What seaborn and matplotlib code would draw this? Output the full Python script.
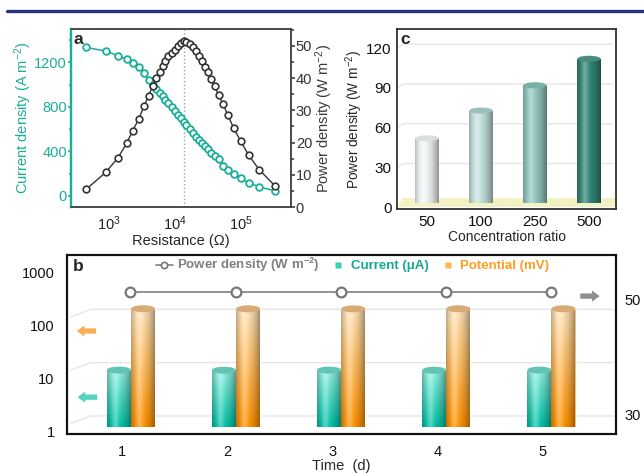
import numpy as np
import pandas as pd
import seaborn as sns
import matplotlib
matplotlib.use('Agg')
import matplotlib.pyplot as plt
import matplotlib.colors as mcolors
import matplotlib.transforms as mtrans
from matplotlib.patches import Ellipse, Polygon
from matplotlib.lines import Line2D
from matplotlib.ticker import MultipleLocator, NullLocator

# panel a: load curve
resistance = [450, 900, 1370, 1850, 2300, 2850, 3400, 4000, 4600, 5200,
              5850, 6500, 7200, 8000, 8900, 9900, 11000, 12200, 13600, 15000,
              16700, 18600, 20600, 22900, 25500, 28300, 31400, 35500, 40000, 46000,
              54000, 64000, 78000, 100000, 132000, 190000, 333000]
current_density = [1334, 1301, 1259, 1227, 1194, 1158, 1100, 1045, 1000, 962,
                   927, 896, 864, 832, 798, 765, 730, 698, 665, 633,
                   598, 565, 533, 502, 471, 444, 418, 389, 362, 327,
                   272, 232, 196, 157, 119, 81, 45]
power_density = [5.5, 10.8, 15.3, 19.7, 23.7, 27.4, 31.3, 34.5, 37.5, 40.0,
                 42.0, 43.7, 45.3, 46.7, 47.8, 48.8, 49.8, 50.8, 51.4, 51.2,
                 50.6, 49.6, 48.3, 46.8, 45.2, 43.5, 41.9, 39.8, 37.6, 34.7,
                 31.9, 28.4, 24.5, 20.4, 16.1, 11.6, 6.5]
peak_resistance = 14000

# panel c: concentration ratio
ratio_labels = ['50', '100', '250', '500']
ratio_power = [52, 73, 92, 112]

# panel b: stability over days
days = [1, 2, 3, 4, 5]
current_uA = [14.5, 14.4, 14.5, 14.4, 14.5]
potential_mV = [205, 204, 204, 205, 205]
day_power = [51.2, 51.2, 51.2, 51.2, 51.2]

sns.set_style('white')
plt.rcParams['font.family'] = ['Liberation Sans', 'DejaVu Sans']
plt.rcParams['mathtext.default'] = 'regular'

teal = '#1aae98'
W, H = 644, 473


def box(x0, y0, x1, y1):
    return [x0 / W, 1 - y1 / H, (x1 - x0) / W, (y1 - y0) / H]


def cyl_image(top_hex, bot_hex, nx=48, ny=48):
    top = np.array(mcolors.to_rgb(top_hex))
    bot = np.array(mcolors.to_rgb(bot_hex))
    r = np.linspace(0, 1, ny)[:, None, None]
    base = top * (1 - r) + bot * r
    t = np.linspace(0, 1, nx)[None, :, None]
    dark = np.where(t > 0.35, 0.40 * ((t - 0.35) / 0.65) ** 2,
                    0.22 * ((0.35 - t) / 0.35) ** 2)
    light = 0.30 * np.exp(-((t - 0.33) / 0.14) ** 2)
    img = base * (1 - dark)
    img = img + (1 - img) * light
    return np.clip(img, 0, 1)


def yfrac(ax, v):
    return ax.transAxes.inverted().transform(ax.transData.transform((0, v)))[1]


def cylinder(ax, patch, img, cap_color, cap_h, trans, y0, y1):
    x0 = patch.get_x()
    w = patch.get_width()
    im = ax.imshow(img, extent=(x0, x0 + w, y0, y1), transform=trans,
                   aspect='auto', interpolation='bilinear',
                   zorder=patch.get_zorder() + 0.1)
    im.set_clip_path(patch)
    ax.add_patch(Ellipse((x0 + w / 2, y1), w, cap_h, transform=trans,
                         facecolor=cap_color, edgecolor='none',
                         zorder=patch.get_zorder() + 0.2))


fig = plt.figure(figsize=(6.44, 4.73), dpi=100)
fig.add_artist(Line2D([7 / W, 1], [1 - 11 / H] * 2, color='#29337a', lw=2.4,
                      transform=fig.transFigure))

# ---------------- panel a ----------------
ax_a = fig.add_axes(box(71, 29, 291, 207))
df_a = pd.DataFrame({'R': resistance, 'J': current_density, 'P': power_density})
ax_a.axvline(peak_resistance, color='#a0a0a0', ls=':', lw=1, zorder=1)
sns.lineplot(data=df_a, x='R', y='J', ax=ax_a, color=teal, linewidth=1.1,
             marker='o', markersize=4.8, markerfacecolor='white',
             markeredgecolor=teal, markeredgewidth=1.3, zorder=3)
ax_a.set_xscale('log')
ax_a.set_xlim(265, 5.8e5)
ax_a.set_ylim(-100, 1500)
ax_a.set_yticks([0, 400, 800, 1200])
ax_a.yaxis.set_minor_locator(MultipleLocator(200))
ax_a.set_xlabel('Resistance (Ω)', fontsize=10.5, labelpad=1)
ax_a.set_ylabel('Current density (A m$^{-2}$)', fontsize=10.5, color=teal, labelpad=0.5)
ax_a.tick_params(axis='y', which='both', colors=teal, direction='out', labelsize=10.5, width=1.1, pad=0.3)
ax_a.tick_params(axis='y', which='major', length=2.5)
ax_a.tick_params(axis='y', which='minor', length=1.8)
ax_a.tick_params(axis='x', which='both', direction='out', labelsize=10.5, colors='#222222', width=1)
ax_a.tick_params(axis='x', which='major', length=3.5, pad=1.5)
ax_a.tick_params(axis='x', which='minor', length=2.2)

ax_a2 = ax_a.twinx()
sns.lineplot(data=df_a, x='R', y='P', ax=ax_a2, color='#333333', linewidth=1.0,
             marker='o', markersize=4.8, markerfacecolor='white',
             markeredgecolor='#333333', markeredgewidth=1.2, zorder=3)
ax_a2.set_ylim(0, 55.2)
ax_a2.set_yticks([0, 10, 20, 30, 40, 50])
ax_a2.yaxis.set_minor_locator(MultipleLocator(5))
ax_a2.set_ylabel('Power density (W m$^{-2}$)', fontsize=10.5, color='#3a3a3a', labelpad=1)
ax_a2.set_xlabel('')
ax_a2.tick_params(axis='y', which='both', colors='#333333', direction='out', labelsize=10.5, width=1.1, pad=0.5)
ax_a2.tick_params(axis='y', which='major', length=3)
ax_a2.tick_params(axis='y', which='minor', length=2)
for a in (ax_a, ax_a2):
    for s in ('top', 'right', 'bottom'):
        a.spines[s].set_color('#444444')
        a.spines[s].set_linewidth(1.1)
    a.spines['left'].set_color(teal)
    a.spines['left'].set_linewidth(1.6)
ax_a2.text(0.012, 0.985, 'a', transform=ax_a2.transAxes, fontsize=12.5,
           fontweight='bold', va='top', ha='left')

# ---------------- panel c ----------------
ax_c = fig.add_axes(box(397, 29, 616, 209))
df_c = pd.DataFrame({'ratio': ratio_labels, 'power': ratio_power})
sns.barplot(data=df_c, x='ratio', y='power', ax=ax_c, width=0.43, color='white',
            edgecolor='none', errorbar=None, zorder=3)
ax_c.set_xlim(-0.556, 3.5)
ax_c.set_ylim(-1.3, 134.5)
ax_c.add_patch(Polygon([(-0.556, 0), (3.5, 0), (3.5, 7), (-0.444, 7)],
                       closed=True, facecolor='#f4f1c4', edgecolor='none', zorder=1))
for v in [30, 60, 90, 120]:
    ax_c.plot([-0.556, -0.444, 3.44], [v, v + 3, v + 3], color='#e6e6e6', lw=1, zorder=0.5)
c_body = ['#f3f6f6', '#c4e2de', '#93c8c0', '#318576']
c_cap = ['#dadede', '#9ac0bb', '#78afa6', '#4a8c80']
for patch, body, cap in zip(ax_c.patches[:4], c_body, c_cap):
    top = patch.get_height()
    patch.set_y(3)
    patch.set_height(top - 3)
    cylinder(ax_c, patch, cyl_image(body, body), cap, 4.6, ax_c.transData, 3, top)
ax_c.set_xlim(-0.556, 3.5)
ax_c.set_ylim(-1.3, 134.5)
ax_c.set_yticks([0, 30, 60, 90, 120])
ax_c.tick_params(axis='both', length=0, labelsize=11, colors='#111111')
ax_c.tick_params(axis='y', pad=4)
ax_c.tick_params(axis='x', pad=4)
ax_c.set_xlabel('Concentration ratio', fontsize=10, labelpad=1)
ax_c.set_ylabel('Power density (W m$^{-2}$)', fontsize=9.8, labelpad=1)
for s in ax_c.spines.values():
    s.set_color('#333333')
    s.set_linewidth(1.3)
ax_c.text(0.015, 0.985, 'c', transform=ax_c.transAxes, fontsize=12.5,
          fontweight='bold', va='top', ha='left')

# ---------------- panel b ----------------
ax_b = fig.add_axes(box(67, 255, 616, 434))
ax_b.set_yscale('log')
ax_b.set_xlim(0.476, 5.70)
ax_b.set_ylim(0.917, 2090)
for v in [1, 10, 100]:
    ax_b.plot([0.51, 0.70, 5.676], [v * 1.43, v * 2, v * 2], color='#e6e6e6', lw=1, zorder=0.5)

bar_w = 0.23
base_b = 1.25
cur_x = [d - 0.03 for d in days]
pot_x = [d + 0.2 for d in days]
cur_bars = ax_b.bar(cur_x, [v - base_b for v in current_uA], bar_w, bottom=base_b,
                    color='#2cc9b0', zorder=2)
pot_bars = ax_b.bar(pot_x, [v - base_b for v in potential_mV], bar_w, bottom=base_b,
                    color='#ffaa40', zorder=2)
blend_b = mtrans.blended_transform_factory(ax_b.transData, ax_b.transAxes)
cap_hb = 7 / 179
cur_img = cyl_image('#92f0e0', '#00c2a6')
pot_img = cyl_image('#ffe4ba', '#ff9200')
for patch, v in zip(cur_bars, current_uA):
    cylinder(ax_b, patch, cur_img, '#62c4b2', cap_hb, blend_b,
             yfrac(ax_b, base_b), yfrac(ax_b, v))
for patch, v in zip(pot_bars, potential_mV):
    cylinder(ax_b, patch, pot_img, '#d8ab76', cap_hb, blend_b,
             yfrac(ax_b, base_b), yfrac(ax_b, v))
ax_b.set_xlim(0.476, 5.70)
ax_b.set_ylim(0.917, 2090)
ax_b.set_yticks([1, 10, 100, 1000])
ax_b.set_yticklabels(['1', '10', '100', '1000'])
ax_b.yaxis.set_minor_locator(NullLocator())
ax_b.set_xticks(days)
ax_b.set_xticklabels([str(d) for d in days])
ax_b.tick_params(axis='both', length=0, labelsize=10.5, colors='#111111')
ax_b.tick_params(axis='y', pad=9)
ax_b.tick_params(axis='x', pad=8)
ax_b.set_xlabel('Time  (d)', fontsize=10.5, labelpad=0)

ax_b.annotate('', xy=(0.543, 78.5), xytext=(0.78, 78.5),
              arrowprops=dict(arrowstyle='simple,head_length=0.55,head_width=0.8,tail_width=0.38',
                              fc='#f9ae55', ec='none', mutation_scale=10))
ax_b.annotate('', xy=(0.55, 4.5), xytext=(0.79, 4.5),
              arrowprops=dict(arrowstyle='simple,head_length=0.55,head_width=0.8,tail_width=0.38',
                              fc='#55d3c1', ec='none', mutation_scale=10))

ax_b2 = ax_b.twinx()
df_b = pd.DataFrame({'x': [d + 0.08 for d in days], 'P': day_power})
sns.lineplot(data=df_b, x='x', y='P', ax=ax_b2, color='#7f7f7f', linewidth=1.2,
             marker='o', markersize=7, markerfacecolor='white',
             markeredgecolor='#777777', markeredgewidth=1.6, zorder=4)
ax_b2.set_ylim(26.72, 57.59)
ax_b2.set_yticks([30, 50])
ax_b2.set_xlim(0.476, 5.70)
ax_b2.set_xlabel('')
ax_b2.set_ylabel('')
ax_b2.tick_params(axis='y', length=0, labelsize=10.5, colors='#111111', pad=6)
ax_b2.annotate('', xy=(5.571, 50.5), xytext=(5.333, 50.5),
               arrowprops=dict(arrowstyle='simple,head_length=0.55,head_width=0.8,tail_width=0.38',
                               fc='#8e8e8e', ec='none', mutation_scale=10))
for a in (ax_b, ax_b2):
    for s in a.spines.values():
        s.set_color('#111111')
        s.set_linewidth(1.5)

handles = [Line2D([], [], color='#7f7f7f', lw=1.2, marker='o', markersize=4.5,
                  markerfacecolor='white', markeredgecolor='#777777', markeredgewidth=1.2),
           Line2D([], [], ls='none', marker='s', markersize=5, markerfacecolor='#3dcfb8',
                  markeredgecolor='none'),
           Line2D([], [], ls='none', marker='s', markersize=5, markerfacecolor='#ffb450',
                  markeredgecolor='none')]
labels = ['Power density (W m$^{-2}$)', 'Current (μA)', 'Potential (mV)']
leg = ax_b2.legend(handles, labels, ncol=3, loc='center', bbox_to_anchor=(0.52, 0.944),
                   frameon=False, handlelength=1.3, handletextpad=0.3, columnspacing=0.8,
                   prop={'size': 9.5, 'weight': 'bold'})
for txt, col in zip(leg.get_texts(), ['#808080', '#14a892', '#ff9d1e']):
    txt.set_color(col)
ax_b2.text(0.01, 0.975, 'b', transform=ax_b2.transAxes, fontsize=12.5,
           fontweight='bold', va='top', ha='left')

fig.savefig('out.png', dpi=100)
